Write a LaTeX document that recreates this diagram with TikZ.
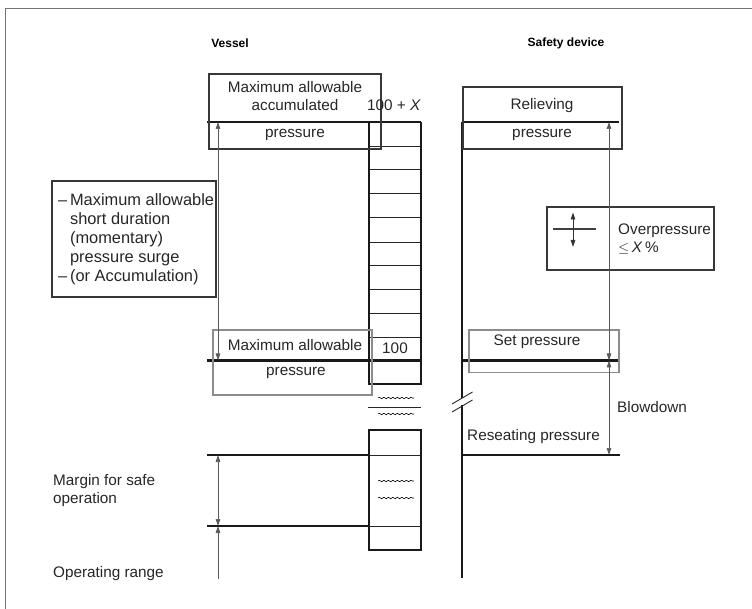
\documentclass[tikz,border=0pt]{standalone}
\usepackage{fontspec}
\setmainfont{Liberation Sans}
\usetikzlibrary{arrows.meta,decorations.pathmorphing}
\begin{document}
\begin{tikzpicture}[x=1pt,y=-1pt,
  lbl/.style={font=\fontsize{15.3}{18}\selectfont, inner sep=0pt, text=black!85},
  biglbl/.style={font=\fontsize{16.4}{19}\selectfont, inner sep=0pt, text=black!85},
  title/.style={font=\bfseries\fontsize{12}{14}\selectfont, inner sep=0pt},
  heavy/.style={line width=2.4pt, black!90},
  lighter/.style={line width=0.9pt, black!85},
  darkbox/.style={draw=black!78, line width=1.5pt},
  graybox/.style={draw=black!45, line width=1.5pt},
  dim/.style={line width=0.7pt, black!65},
  tp/.tip={Triangle[length=7pt,width=4.5pt]},
  wave/.style={line width=0.6pt, decorate, decoration={snake, amplitude=0.7pt, segment length=4.5pt}},
  frame/.style={line width=1pt, black!55}
]
\useasboundingbox (0,0) rectangle (752,609);
% frame
\draw[frame] (5,609) -- (5,9) -- (752,9);

% titles
\node[title] (tvessel) at (230,43) {Vessel};
\node[title] (tsafety) at (566,43) {Safety device};

% ---------- vessel column ----------
\foreach \yy in {146,169,193,217,242,265,289,313,337} {\draw[lighter] (369,\yy) -- (421,\yy);}
\draw[heavy] (369,122) -- (369,384) -- (421,384) -- (421,122);
\draw[heavy] (207,122) -- (421,122);
\draw[heavy] (207,360.5) -- (421,360.5);
% break waves
\draw[wave] (378,398) -- (414,398);
\draw[wave] (378,414) -- (414,414);
\draw[lighter] (368,407.5) -- (421,407.5);
% lower column
\draw[heavy] (369,430) rectangle (421,550);
\draw[lighter] (369,526) -- (421,526);
\draw[heavy] (207,455) -- (369,455);
\draw[lighter] (369,455) -- (421,455);
\draw[heavy] (207,526) -- (369,526);
\draw[wave] (378,481) -- (414,481);
\draw[wave] (378,498) -- (414,498);

% boxes (vessel)
\draw[darkbox] (209,74) rectangle (381,149);
\draw[graybox] (213,330) rectangle (372,395);
\node[lbl, align=center] (maxacc) at (295,96) {Maximum allowable\\accumulated};
\node[lbl] (press1) at (295,135) {pressure};
\node[lbl] (hundx) at (394,105) {100 + \textit{X}};
\node[lbl] (maxall) at (295,345) {Maximum allowable};
\node[lbl] (press2) at (296,373) {pressure};
\node[lbl] (hund) at (395,348) {100};

% left description box
\draw[darkbox] (52,181) rectangle (216,297);
\node[biglbl, align=left, anchor=north west] (surge) at (58,193) {--\,Maximum allowable\\\phantom{--\,}short duration\\\phantom{--\,}(momentary)\\\phantom{--\,}pressure surge\\--\,(or Accumulation)};

% lower left labels
\node[lbl, align=left, anchor=west] (margin) at (53,491) {Margin for safe\\operation};
\node[lbl, anchor=west] (oprange) at (53,574) {Operating range};

% vessel dimension arrows
\coordinate (va) at (218,122);
\coordinate (vb) at (218,360.5);
\coordinate (vc) at (218,455);
\coordinate (vd) at (218,526);
\coordinate (ve) at (218,579);
\draw[dim, tp-tp] (va) -- (vb);
\draw[dim, tp-tp] (vc) -- (vd);
\draw[dim, tp-] (vd) -- (ve);

% ---------- safety device ----------
\draw[heavy] (462,122) -- (462,398);
\draw[heavy] (462,405) -- (462,578);
\draw[lighter] (452,404) -- (472.5,392);
\draw[lighter] (452,412) -- (472.5,400);
\draw[heavy] (462,122) -- (619,122);
\draw[heavy] (462,360.5) -- (618,360.5);
\draw[heavy] (462,455) -- (620,455);

\draw[darkbox] (463,87) rectangle (622,149);
\draw[graybox] (469,330) rectangle (619,372.5);
\node[lbl] (reliev) at (542,106) {Relieving};
\node[lbl] (press3) at (542,135) {pressure};
\node[lbl] (setp) at (537,342) {Set pressure};
\node[lbl, anchor=west] (reseat) at (467,437) {Reseating pressure};
\node[lbl, anchor=west] (blow) at (617,407) {Blowdown};

% overpressure box
\draw[darkbox] (547,207) rectangle (714,270);
\coordinate (ch1) at (553,229);
\coordinate (ch2) at (596,229);
\coordinate (cv1) at (573,212.5);
\coordinate (cv2) at (573,247);
\draw[line width=1.2pt, black!75] (ch1) -- (ch2);
\draw[line width=0.8pt, black!80, tp-tp] (cv1) -- (cv2);
\node[lbl, align=left, anchor=north west] (overp) at (618,224) {Overpressure\\$\leq$\,\textit{X}\,\%};

% safety dimension arrows
\coordinate (sa) at (609,122);
\coordinate (sb) at (609,360.5);
\coordinate (sc) at (609,455);
\draw[dim, tp-tp] (sa) -- (sb);
\draw[dim, tp-tp] (sb) -- (sc);
\end{tikzpicture}
\end{document}
